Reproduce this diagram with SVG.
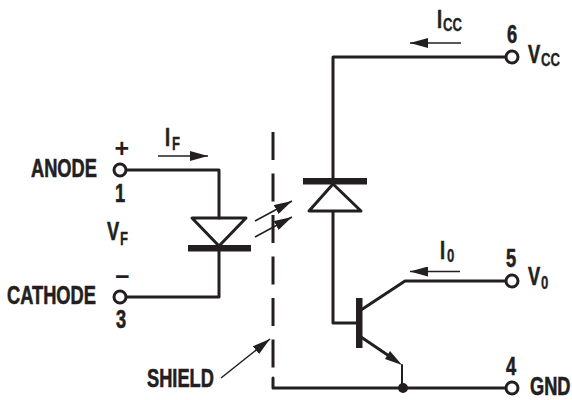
<svg xmlns="http://www.w3.org/2000/svg" width="572" height="400" viewBox="0 0 572 400">
<style>
.w{fill:none;stroke:#231f20;stroke-width:3;stroke-linejoin:round;stroke-linecap:round}
.a{fill:none;stroke:#231f20;stroke-width:1.5}
.h{fill:#231f20;stroke:none}
.p{fill:#fff;stroke:#231f20;stroke-width:3}
.t{font-family:"Liberation Sans",Arial,sans-serif;font-weight:700;font-size:25px;fill:#231f20;stroke:#231f20;stroke-width:.6}
.s{font-size:18px;stroke-width:.3}
.m{font-family:"Liberation Sans",Arial,sans-serif;font-weight:700;font-size:25px;fill:#231f20}
</style>
<defs>
<marker id="ah" viewBox="0 0 18 10" refX="18" refY="5" markerWidth="18" markerHeight="10" markerUnits="userSpaceOnUse" orient="auto"><path d="M0 0L18 5L0 10Z" fill="#231f20"/></marker>
</defs>
<g id="connectors">
<path class="w" d="M126 170H219V218M219 250V297H126"/>
<path class="w" d="M506 57H333V184M333 212V323H358"/>
<path class="w" d="M361 310L405 281H506"/>
<path class="w" d="M361 337L395 360"/>
<path class="w" d="M402 365V388" style="stroke-width:2"/>
<path class="w" d="M273 378V388H506"/>
<path d="M273 132V378" fill="none" stroke="#231f20" stroke-width="3" stroke-dasharray="28 13.500"/>
<path class="a" d="M158 156H208" marker-end="url(#ah)"/>
<path class="a" d="M461 43H410" marker-end="url(#ah)"/>
<path class="a" d="M460 271.500H410" marker-end="url(#ah)"/>
<path class="a" d="M255 221L292 201" marker-end="url(#ah)"/>
<path class="a" d="M255 237L292 217" marker-end="url(#ah)"/>
<path class="a" d="M221 378L270 339" marker-end="url(#ah)"/>
<path class="h" d="M402 365L390 351L385 359Z"/>
<circle class="h" cx="403" cy="388" r="5"/>
</g>
<g id="led"><path class="w" d="M192 218H246L219 246Z"/><rect class="h" x="188" y="245" width="63" height="6.500"/></g>
<g id="photodiode"><path class="w" d="M309 211H361L333 184Z"/><rect class="h" x="303" y="178" width="64" height="6.500"/></g>
<g id="transistor"><rect class="h" x="356" y="298" width="6.500" height="50"/></g>
<g id="pin1"><circle class="p" cx="120" cy="170" r="6"/>
<text class="t" transform="translate(31 177) scale(.73 1)">ANODE</text>
<text class="t" transform="translate(115 202) scale(.73 1)">1</text>
<text class="m" x="114.500" y="157">+</text></g>
<g id="pin3"><circle class="p" cx="120" cy="297" r="6"/>
<text class="t" transform="translate(7 304) scale(.73 1)">CATHODE</text>
<text class="t" transform="translate(116 328) scale(.73 1)">3</text>
<text class="m" x="115" y="285">−</text></g>
<g id="pin6"><circle class="p" cx="512" cy="57" r="6"/>
<text class="t" transform="translate(507 43) scale(.73 1)">6</text>
<text class="t" transform="translate(528 63) scale(.73 1)">V</text>
<text class="t s" transform="translate(541 66) scale(.73 1)">CC</text></g>
<g id="pin5"><circle class="p" cx="512" cy="281" r="6"/>
<text class="t" transform="translate(506 267) scale(.73 1)">5</text>
<text class="t" transform="translate(528 285) scale(.73 1)">V</text>
<text class="t s" transform="translate(541 289) scale(.73 1)">0</text></g>
<g id="pin4"><circle class="p" cx="512" cy="388" r="6"/>
<text class="t" transform="translate(506 375) scale(.73 1)">4</text>
<text class="t" transform="translate(530 394.500) scale(.73 1)">GND</text></g>
<g id="labels">
<text class="t" transform="translate(165 146) scale(.73 1)">I</text>
<text class="t s" transform="translate(172 150) scale(.73 1)">F</text>
<text class="t" transform="translate(107 240) scale(.73 1)">V</text>
<text class="t s" transform="translate(120 245) scale(.73 1)">F</text>
<text class="t" transform="translate(437 28) scale(.73 1)">I</text>
<text class="t s" transform="translate(443 31) scale(.73 1)">CC</text>
<text class="t" transform="translate(440 259) scale(.73 1)">I</text>
<text class="t s" transform="translate(447 262) scale(.73 1)">0</text>
<text class="t" transform="translate(147 387) scale(.73 1)">SHIELD</text>
</g>
</svg>
